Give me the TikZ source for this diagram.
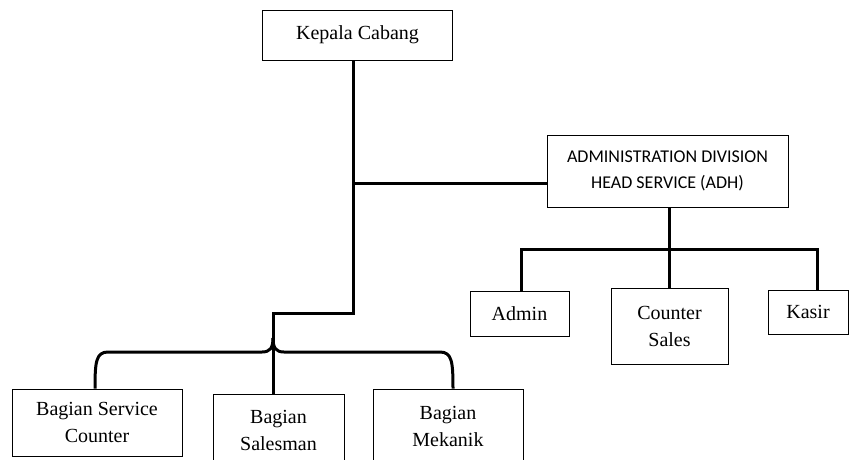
\documentclass[tikz,border=0pt]{standalone}
\usepackage{fontspec}
\setmainfont{Liberation Serif}
\newfontfamily\adhfont{Carlito}
\begin{document}
\begin{tikzpicture}[x=1pt,y=-1pt,
  box/.style={draw, line width=0.9pt, rectangle, inner sep=0pt, align=center,
    font=\fontsize{20}{27}\selectfont},
  conn/.style={line width=3pt, line join=miter}]
\useasboundingbox (0,0) rectangle (849,459);
\clip (0,0) rectangle (849,459);

% boxes
\node[box, minimum width=190, minimum height=50] (kc) at (357.5,35) {Kepala Cabang};
\node[box, minimum width=241, minimum height=72,
      font=\adhfont\fontsize{18}{26}\selectfont] (adh) at (667.5,171)
      {ADMINISTRATION DIVISION\\HEAD SERVICE (ADH)};
\node[box, minimum width=99, minimum height=45] (admin) at (519.5,313.5) {Admin};
\node[box, minimum width=117, minimum height=76] (cs) at (669.5,326.5) {Counter\\Sales};
\node[box, minimum width=80, minimum height=44] (kasir) at (808,312) {Kasir};
\node[box, minimum width=170, minimum height=67] (bsc) at (97,422.5) {Bagian Service\\Counter};
\node[box, minimum width=131, minimum height=72] (bs) at (278.5,430) {Bagian\\Salesman};
\node[box, minimum width=150, minimum height=74] (bm) at (448,426) {Bagian\\Mekanik};

% junction points
\coordinate (j1) at (353,183);
\coordinate (j2) at (353,313);
\coordinate (j3) at (273,313);
\coordinate (j4) at (273,352);
\coordinate (bl) at (95,352);
\coordinate (br) at (453,352);
\coordinate (b1) at (669,249);
\coordinate (ba) at (521,249);
\coordinate (bk) at (817,249);

% main trunk
\draw[conn] (kc.south -| j1) -- (j2) -- (j3) -- (j3 |- bs.north);
\draw[conn] (j1) -- (j1 -| adh.west);

% ADH branch
\draw[conn] (adh.south -| b1) -- (cs.north -| b1);
\draw[conn] (ba |- admin.north) -- (ba) -- (bk) -- (bk |- kasir.north);

% brace over the lower boxes
\draw[conn, line join=round] (bl |- bsc.north) .. controls (95,362) and (96,352) .. (108,352)
  -- (262,352) .. controls (270,352) and (273,348) .. (273,338);
\draw[conn, line join=round] (br |- bm.north) .. controls (453,362) and (452,352) .. (440,352)
  -- (284,352) .. controls (276,352) and (273,348) .. (273,338);
\end{tikzpicture}
\end{document}
